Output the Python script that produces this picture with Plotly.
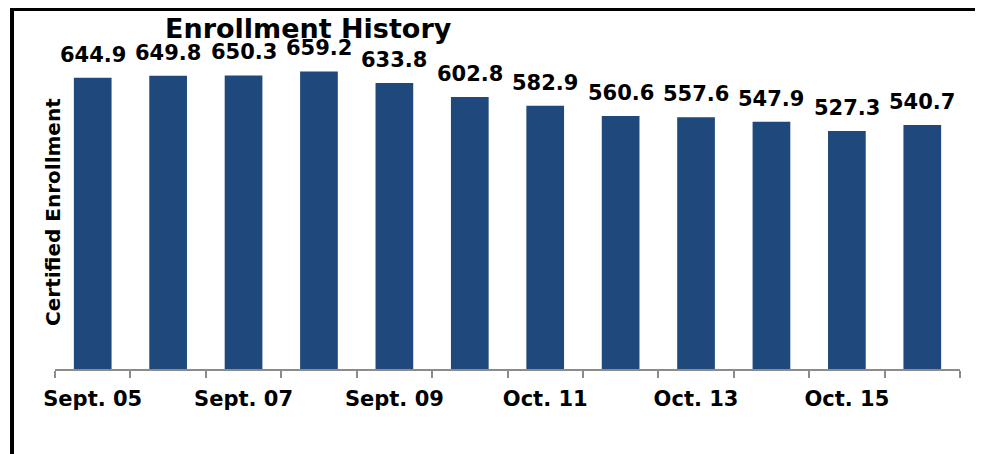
import plotly.graph_objects as go

categories = ["Sept. 05", "Sept. 06", "Sept. 07", "Sept. 08", "Sept. 09", "Oct. 10",
              "Oct. 11", "Oct. 12", "Oct. 13", "Oct. 14", "Oct. 15", "Oct. 16"]
enrollment = [644.9, 649.8, 650.3, 659.2, 633.8, 602.8, 582.9, 560.6, 557.6, 547.9, 527.3, 540.7]
tick_labels = ["Sept. 05", "", "Sept. 07", "", "Sept. 09", "", "Oct. 11", "", "Oct. 13", "", "Oct. 15", ""]

FONT = "DejaVu Sans"
BAR_COLOR = "#1F497D"

fig = go.Figure()
fig.add_trace(go.Bar(
    x=categories, y=enrollment,
    marker=dict(color=BAR_COLOR, line=dict(width=0)),
    hoverinfo="x+y",
))

annotations = []
for c, v in zip(categories, enrollment):
    annotations.append(dict(
        x=c, y=v, xref="x", yref="y", text=f"<b>{v:.1f}</b>",
        showarrow=False, yanchor="bottom", yshift=9,
        font=dict(family=FONT, size=21, color="black"),
    ))

annotations.append(dict(
    x=0.280, y=1.077, xref="paper", yref="paper",
    text="<b>Enrollment History</b>", showarrow=False,
    xanchor="center", yanchor="middle",
    font=dict(family=FONT, size=27, color="black"),
))
annotations.append(dict(
    x=-0.003, y=0.498, xref="paper", yref="paper",
    text="<b>Certified Enrollment</b>", showarrow=False, textangle=-90,
    xanchor="center", yanchor="middle",
    font=dict(family=FONT, size=20, color="black"),
))

fig.update_layout(
    width=975, height=446,
    margin=dict(l=47, r=23, t=45, b=85, autoexpand=False),
    paper_bgcolor="white", plot_bgcolor="white",
    bargap=0.5,
    showlegend=False,
    annotations=annotations,
    font=dict(family=FONT, color="black"),
    xaxis=dict(
        type="category", automargin=False,
        tickmode="array", tickvals=categories, ticktext=tick_labels,
        tickangle=0, ticklabelstandoff=10,
        tickson="boundaries", ticks="outside", ticklen=7, tickwidth=1.5,
        tickcolor="#8c8c8c",
        showline=True, linecolor="#8c8c8c", linewidth=1.5,
        showgrid=False, zeroline=False,
        tickfont=dict(family=FONT, size=21, color="black", weight="bold"),
    ),
    yaxis=dict(
        range=[0, 700], showticklabels=False, ticks="", automargin=False,
        showgrid=False, zeroline=False, showline=False,
    ),
    shapes=[
        dict(type="line", xref="paper", yref="paper",
             x0=-0.0475, x1=1.04, y0=1.1392, y1=1.1392,
             line=dict(color="black", width=4)),
        dict(type="line", xref="paper", yref="paper",
             x0=-0.0475, x1=-0.0475, y0=1.145, y1=-0.30,
             line=dict(color="black", width=4)),
    ],
)

fig.write_html("out.html")
